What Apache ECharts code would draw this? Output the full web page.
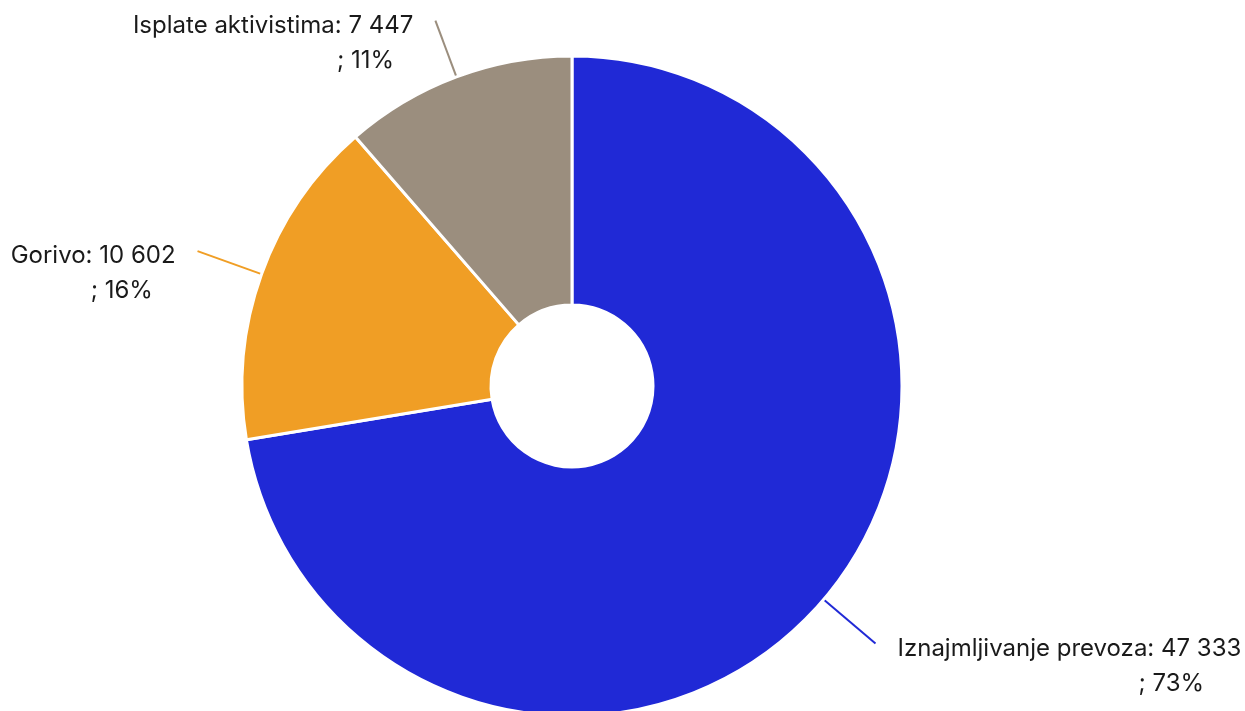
<!DOCTYPE html>
<html>
<head>
<meta charset="utf-8">
<script src="https://cdn.jsdelivr.net/npm/echarts@6/dist/echarts.min.js"></script>
<style>
  html, body { margin: 0; padding: 0; background: #ffffff; }
  #chart { width: 1245px; height: 711px; }
</style>
</head>
<body>
<div id="chart"></div>
<script>
// Expense breakdown
const categories = ['Iznajmljivanje prevoza', 'Gorivo', 'Isplate aktivistima'];
const values = [47333, 10602, 7447];
const colors = ['#2029d6', '#f09e25', '#9b8e7e'];
// indent of the "; NN%" line under each label's first line
const percentIndent = [241, 80, 204];
// leader line length for each slice
const leaderLength = [68, 68, 60];

function groupThousands(n) {
  return String(n).replace(/\B(?=(\d{3})+(?!\d))/g, ' ');
}

const baseText = { fontFamily: 'Inter', fontSize: 24, lineHeight: 35, color: '#1a1a1a', align: 'left' };
const rich = { name: Object.assign({}, baseText) };
percentIndent.forEach(function (w, i) {
  rich['pct' + i] = Object.assign({}, baseText, { padding: [0, 0, 0, w] });
});

const seriesData = categories.map(function (name, i) {
  return {
    name: name,
    value: values[i],
    itemStyle: { color: colors[i] },
    labelLine: { length: leaderLength[i] }
  };
});

const chart = echarts.init(document.getElementById('chart'), null, { renderer: 'canvas' });
chart.setOption({
  animation: false,
  backgroundColor: '#ffffff',
  series: [{
    type: 'pie',
    // layout box is larger than the canvas so labels near the edges are left in place
    left: -100, top: -100, width: 1445, height: 911,
    center: [672, 486],
    radius: [81, 330],
    startAngle: 90,
    clockwise: true,
    percentPrecision: 0,
    avoidLabelOverlap: false,
    itemStyle: { borderColor: '#ffffff', borderWidth: 3 },
    emphasis: { disabled: true },
    label: {
      show: true,
      position: 'outside',
      distanceToLabelLine: 22,
      padding: [45, 0, 0, 0],
      formatter: function (p) {
        return '{name|' + p.name + ': ' + groupThousands(p.value) + '}\n' +
               '{pct' + p.dataIndex + '|; ' + p.percent + '%}';
      },
      rich: rich
    },
    labelLine: {
      show: true,
      length: 68,
      length2: 0,
      lineStyle: { width: 2 }
    },
    data: seriesData
  }]
});
</script>
</body>
</html>
